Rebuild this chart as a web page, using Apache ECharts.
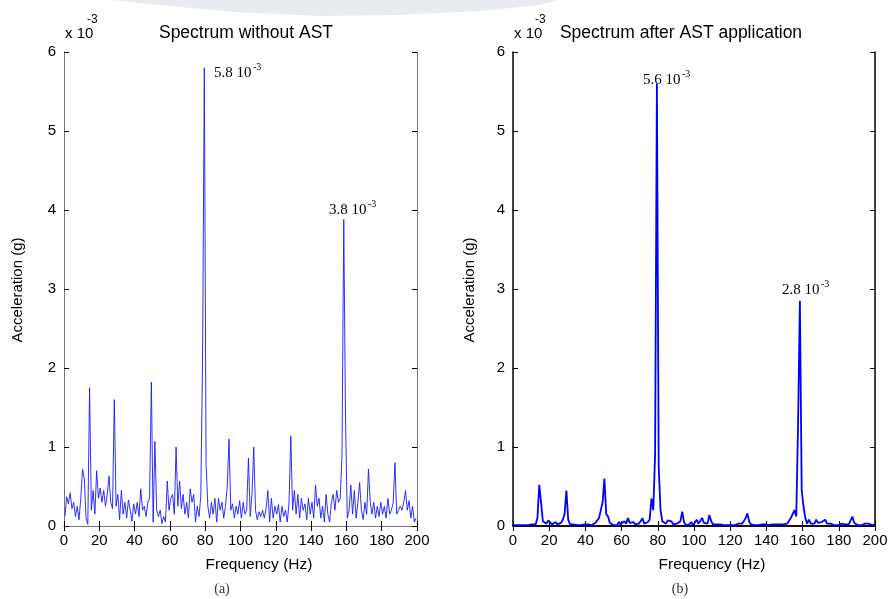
<!DOCTYPE html>
<html><head><meta charset="utf-8">
<script src="https://cdn.jsdelivr.net/npm/echarts@6/dist/echarts.min.js"></script>
<style>html,body{margin:0;padding:0;background:#fff;}#c{width:894px;height:599px;}</style>
</head><body><div id="c"></div>
<script>
// Frequency bins: start 0.5 Hz, step 1 Hz (bin centres)
const binStart = 0.5;
const binStep = 1;
// Spectrum without AST (x10^-3 g)
const withoutAST = [
0.12,0.37,0.28,0.42,0.22,0.30,0.12,0.25,0.08,0.35,
0.72,0.60,0.10,0.02,1.75,0.20,0.45,0.15,0.70,0.35,
0.48,0.30,0.45,0.25,0.40,0.63,0.30,0.22,1.60,0.25,
0.40,0.08,0.45,0.15,0.30,0.10,0.33,0.20,0.06,0.28,
0.15,0.30,0.12,0.47,0.20,0.25,0.12,0.30,0.35,1.82,
0.05,1.07,0.20,0.12,0.20,0.03,0.12,0.05,0.57,0.20,
0.35,0.40,0.15,1.00,0.25,0.57,0.22,0.40,0.15,0.30,
0.10,0.47,0.30,0.40,0.05,0.25,0.12,0.38,2.10,5.80,
0.78,0.25,0.10,0.30,0.15,0.35,0.05,0.35,0.20,0.30,
0.10,0.25,0.50,1.10,0.20,0.28,0.10,0.25,0.15,0.32,
0.10,0.30,0.15,0.20,0.86,0.12,0.40,1.00,0.20,0.08,
0.18,0.12,0.20,0.10,0.22,0.45,0.05,0.35,0.10,0.25,
0.15,0.27,0.05,0.25,0.12,0.20,0.05,0.30,1.14,0.20,
0.45,0.15,0.40,0.10,0.35,0.20,0.28,0.08,0.35,0.15,
0.30,0.10,0.52,0.25,0.35,0.10,0.25,0.05,0.40,0.15,
0.05,0.30,0.40,0.20,0.45,0.30,0.35,0.90,3.88,1.35,
0.10,0.20,0.52,0.15,0.45,0.10,0.30,0.55,0.20,0.08,
0.30,0.15,0.72,0.30,0.15,0.30,0.10,0.25,0.12,0.30,
0.15,0.25,0.10,0.35,0.15,0.20,0.30,0.80,0.15,0.20,
0.25,0.20,0.30,0.45,0.20,0.32,0.10,0.25,0.05,0.10
];
// Spectrum after AST application (x10^-3 g)
const afterAST = [
0.01,0.02,0.01,0.02,0.01,0.00,0.01,0.03,0.01,0.03,
0.02,0.01,0.02,0.10,0.52,0.30,0.06,0.04,0.03,0.07,
0.05,0.02,0.04,0.05,0.02,0.03,0.04,0.08,0.15,0.45,
0.08,0.02,0.01,0.02,0.01,0.01,0.02,0.01,0.01,0.02,
0.01,0.02,0.03,0.01,0.02,0.04,0.07,0.10,0.12,0.30,
0.60,0.15,0.12,0.04,0.02,0.01,0.02,0.01,0.05,0.02,
0.03,0.06,0.03,0.10,0.04,0.02,0.05,0.02,0.04,0.03,
0.06,0.10,0.03,0.02,0.05,0.08,0.35,0.20,0.90,5.60,
0.75,0.20,0.06,0.07,0.03,0.07,0.05,0.06,0.02,0.01,
0.03,0.05,0.06,0.18,0.05,0.01,0.03,0.02,0.05,0.01,
0.02,0.08,0.03,0.02,0.10,0.04,0.02,0.03,0.14,0.06,
0.02,0.01,0.02,0.01,0.02,0.03,0.01,0.02,0.01,0.02,
0.01,0.02,0.01,0.01,0.03,0.02,0.03,0.06,0.10,0.16,
0.05,0.02,0.02,0.01,0.02,0.01,0.01,0.02,0.01,0.02,
0.03,0.01,0.01,0.02,0.01,0.02,0.01,0.02,0.01,0.02,
0.02,0.03,0.05,0.10,0.15,0.20,0.12,1.30,2.85,0.45,
0.25,0.10,0.03,0.08,0.03,0.04,0.03,0.08,0.04,0.03,
0.05,0.03,0.08,0.03,0.02,0.03,0.02,0.01,0.02,0.01,
0.02,0.03,0.01,0.02,0.01,0.02,0.02,0.12,0.04,0.02,
0.01,0.02,0.01,0.02,0.03,0.02,0.03,0.02,0.01,0.02
];
const xTicks = [0,20,40,60,80,100,120,140,160,180,200];
const yTicks = [0,1,2,3,4,5,6];
const titles = ['Spectrum without AST','Spectrum after AST application'];
const peakLabels = [['5.8','3.8'],['5.6','2.8']];

function pairs(arr){ return arr.map((v,i)=>[binStart+i*binStep, v]); }

const chart = echarts.init(document.getElementById('c'));
const sans = 'Liberation Sans, Arial, sans-serif';
const serif = 'Liberation Serif, Times New Roman, serif';

function xAx(g, pos, frameColor, w){
  return {gridIndex:g, type:'value', min:xTicks[0], max:xTicks[xTicks.length-1], interval:20, position:pos,
    axisLine:{show:true, lineStyle:{color:frameColor, width:w}},
    axisTick:{show:true, inside:true, length:5, lineStyle:{color:'#000', width:1}},
    axisLabel:{show:pos==='bottom', color:'#000', fontFamily:sans, fontSize:15, margin:7},
    splitLine:{show:false}};
}
function yAx(g, pos, frameColor, w){
  return {gridIndex:g, type:'value', min:yTicks[0], max:yTicks[yTicks.length-1], interval:1, position:pos,
    axisLine:{show:true, onZero:false, lineStyle:{color:frameColor, width:w}},
    axisTick:{show:true, inside:true, length:5, lineStyle:{color:'#000', width:1}},
    axisLabel:{show:pos==='left', color:'#000', fontFamily:sans, fontSize:15, margin:8},
    splitLine:{show:false}};
}

const option = {
  animation:false,
  backgroundColor:'#fff',
  grid:[
    {left:64, right:477, top:52, bottom:73},
    {left:513, right:19, top:52, bottom:73}
  ],
  xAxis:[xAx(0,'bottom','#777',1), xAx(0,'top','#777',1), xAx(1,'bottom','#000',1.5), xAx(1,'top','#000',1.5)],
  yAxis:[yAx(0,'left','#777',1), yAx(0,'right','#777',1), yAx(1,'left','#000',1.5), yAx(1,'right','#000',1.5)],
  series:[
    {type:'line', xAxisIndex:0, yAxisIndex:0, data:pairs(withoutAST), showSymbol:false,
      lineStyle:{color:'#1a1aff', width:0.9}, clip:true},
    {type:'line', xAxisIndex:2, yAxisIndex:2, data:pairs(afterAST), showSymbol:false,
      lineStyle:{color:'#0000ff', width:1.8}, clip:true}
  ],
  graphic:[
    {type:'polygon', shape:{points:[[110,0],[560,0],[540,5],[480,11],[400,15],[320,16],[250,13],[190,8],[140,3]]},
      style:{fill:'#e8ecf1'}, silent:true, z:-1},
    // titles
    {type:'text', x:246, y:33, style:{text:titles[0], font:'17.5px '+sans, fill:'#000', align:'center', verticalAlign:'middle'}},
    {type:'text', x:681, y:33, style:{text:titles[1], font:'17.5px '+sans, fill:'#000', align:'center', verticalAlign:'middle'}},
    // exponent labels
    {type:'text', x:65, y:34, style:{text:'x 10', font:'15px '+sans, fill:'#000', verticalAlign:'middle'}},
    {type:'text', x:87, y:20, style:{text:'-3', font:'12px '+sans, fill:'#000', verticalAlign:'middle'}},
    {type:'text', x:514, y:34, style:{text:'x 10', font:'15px '+sans, fill:'#000', verticalAlign:'middle'}},
    {type:'text', x:535, y:20, style:{text:'-3', font:'12px '+sans, fill:'#000', verticalAlign:'middle'}},
    // axis names
    {type:'text', x:259, y:565, style:{text:'Frequency (Hz)', font:'15.5px '+sans, fill:'#000', align:'center', verticalAlign:'middle'}},
    {type:'text', x:712, y:565, style:{text:'Frequency (Hz)', font:'15.5px '+sans, fill:'#000', align:'center', verticalAlign:'middle'}},
    {type:'text', x:18, y:290, rotation:Math.PI/2, style:{text:'Acceleration (g)', font:'15px '+sans, fill:'#000', align:'center', verticalAlign:'middle'}},
    {type:'text', x:470, y:290, rotation:Math.PI/2, style:{text:'Acceleration (g)', font:'15px '+sans, fill:'#000', align:'center', verticalAlign:'middle'}},
    // sub captions
    {type:'text', x:222, y:589, style:{text:'(a)', font:'14px '+serif, fill:'#333', align:'center', verticalAlign:'middle'}},
    {type:'text', x:680, y:589, style:{text:'(b)', font:'14px '+serif, fill:'#333', align:'center', verticalAlign:'middle'}},
    // peak annotations
    {type:'text', x:214, y:73, style:{text:peakLabels[0][0]+' 10', font:'15px '+serif, fill:'#000', verticalAlign:'middle'}},
    {type:'text', x:253, y:67, style:{text:'-3', font:'10px '+serif, fill:'#000', verticalAlign:'middle'}},
    {type:'text', x:329, y:210, style:{text:peakLabels[0][1]+' 10', font:'15px '+serif, fill:'#000', verticalAlign:'middle'}},
    {type:'text', x:368, y:204, style:{text:'-3', font:'10px '+serif, fill:'#000', verticalAlign:'middle'}},
    {type:'text', x:643, y:80, style:{text:peakLabels[1][0]+' 10', font:'15px '+serif, fill:'#000', verticalAlign:'middle'}},
    {type:'text', x:682, y:74, style:{text:'-3', font:'10px '+serif, fill:'#000', verticalAlign:'middle'}},
    {type:'text', x:782, y:290, style:{text:peakLabels[1][1]+' 10', font:'15px '+serif, fill:'#000', verticalAlign:'middle'}},
    {type:'text', x:821, y:284, style:{text:'-3', font:'10px '+serif, fill:'#000', verticalAlign:'middle'}}
  ]
};
chart.setOption(option);
</script></body></html>
